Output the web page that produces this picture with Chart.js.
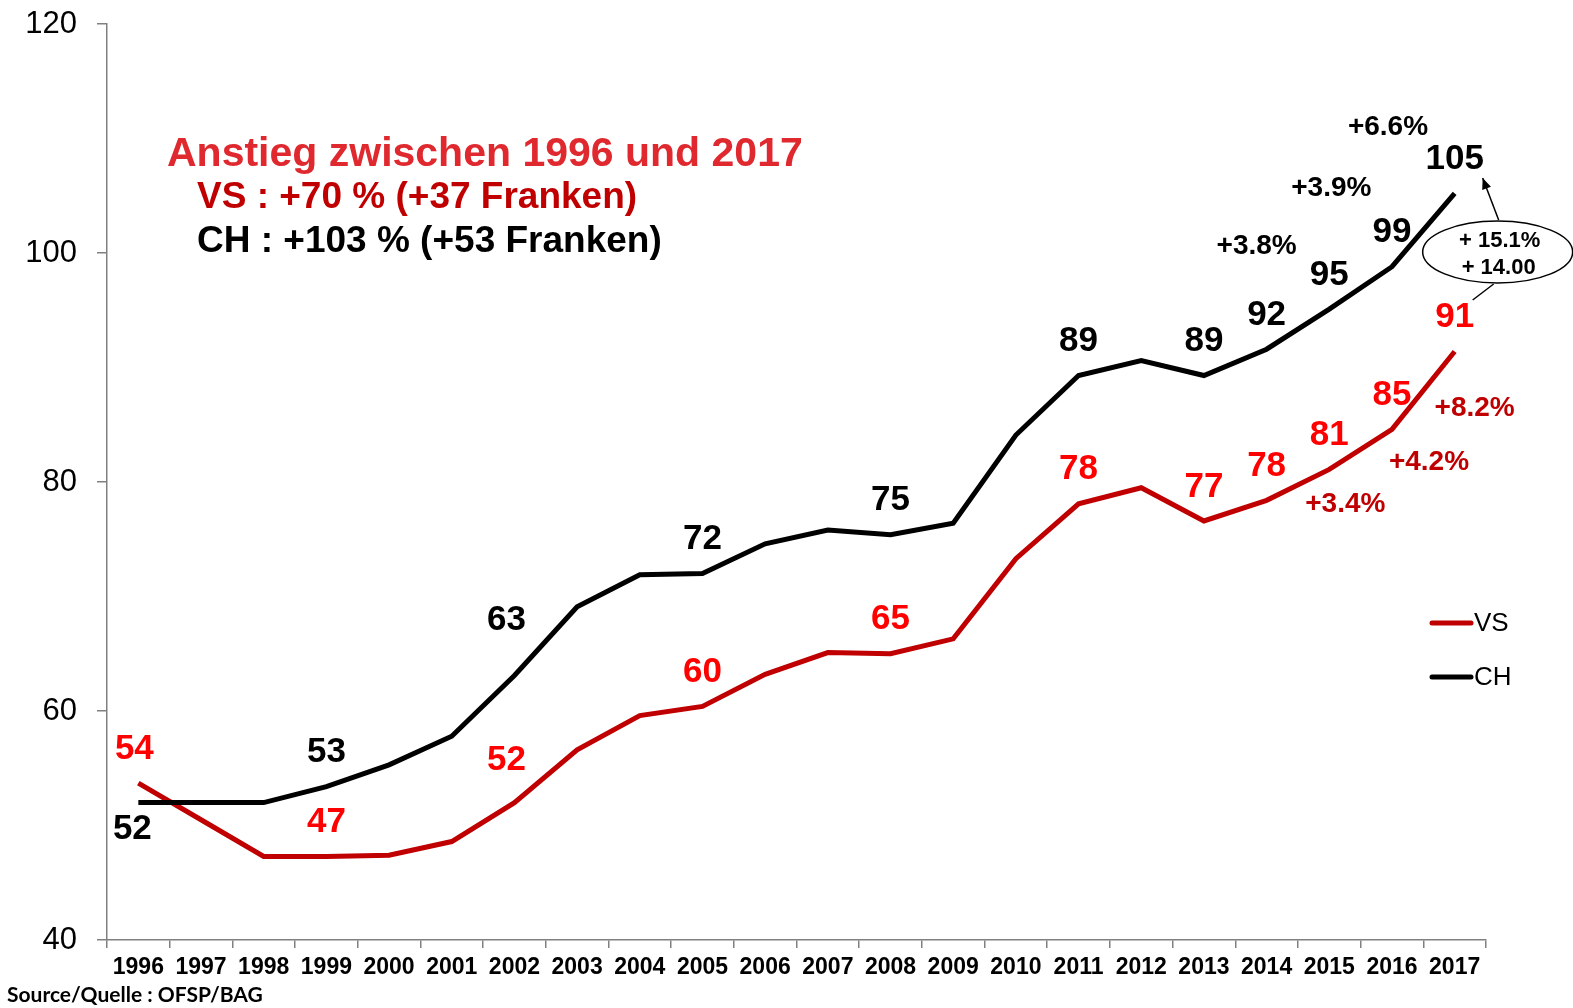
<!DOCTYPE html>
<html>
<head>
<meta charset="utf-8">
<script src="https://cdn.jsdelivr.net/npm/chart.js@4.4.0/dist/chart.umd.min.js"></script>
<style>
  html, body { margin: 0; padding: 0; background: #fff; overflow: hidden; }
  #wrap { position: relative; width: 1573px; height: 1008px; }
</style>
</head>
<body>
<div id="wrap"><canvas id="praemien"></canvas></div>
<script>
/* ── Daten ─────────────────────────────────── */
const YEARS = ['1996','1997','1998','1999','2000','2001','2002','2003','2004','2005','2006',
               '2007','2008','2009','2010','2011','2012','2013','2014','2015','2016','2017'];
const VS_VALUES = [53.7, 50.5, 47.3, 47.3, 47.4, 48.6, 52.0, 56.6, 59.6, 60.4, 63.2,
                   65.1, 65.0, 66.3, 73.3, 78.1, 79.5, 76.6, 78.4, 81.1, 84.6, 91.4];
const CH_VALUES = [52.0, 52.0, 52.0, 53.4, 55.3, 57.8, 63.1, 69.1, 71.9, 72.0, 74.6,
                   75.8, 75.4, 76.4, 84.1, 89.3, 90.6, 89.3, 91.6, 95.1, 98.8, 105.2];
const Y_MIN = 40, Y_MAX = 120, Y_STEP = 20;

// Jahre mit Wertbeschriftung (Index in YEARS)
const LABELLED = [0, 3, 6, 9, 12, 15, 17, 18, 19, 20, 21];
const VS_LABELLED = [0, 3, 6, 9, 12, 15, 17, 18, 19, 20, 21];

// Veränderung zum Vorjahr 2015, 2016, 2017
const CH_GROWTH = ['+3.8%', '+3.9%', '+6.6%'];
const VS_GROWTH = ['+3.4%', '+4.2%', '+8.2%'];
const GAP_TEXT  = ['+ 15.1%', '+ 14.00'];

const SUMMARY_TITLE = 'Anstieg zwischen 1996 und 2017';
const SUMMARY_VS    = 'VS : +70 % (+37 Franken)';
const SUMMARY_CH    = 'CH : +103 % (+53 Franken)';
const SOURCE_TEXT   = 'Source/Quelle : OFSP/BAG';

const FONT = "'Liberation Sans', Arial, sans-serif";
const RED_LINE = '#c00000';
const RED_LABEL = '#ff0000';

/* ── Beschriftungen im Diagramm ────────────── */
const annotations = {
  id: 'annotations',
  afterDatasetsDraw(chart) {
    const ctx = chart.ctx;
    const x = chart.scales.x, y = chart.scales.y;
    const px = i => x.getPixelForValue(i);

    ctx.save();
    ctx.textAlign = 'center';
    ctx.textBaseline = 'middle';

    // Werte an den Linien
    const chOffsets = { 0: [-6, 27], 6: [-8, -55] };
    const vsOffsets = { 0: [-4, -34], 6: [-8, -42] };
    ctx.font = 'bold 35px ' + FONT;
    ctx.fillStyle = '#000';
    LABELLED.forEach(i => {
      const [dx, dy] = chOffsets[i] || [0, -34];
      ctx.fillText(Math.round(CH_VALUES[i]), px(i) + dx, y.getPixelForValue(CH_VALUES[i]) + dy);
    });
    ctx.fillStyle = RED_LABEL;
    VS_LABELLED.forEach(i => {
      const [dx, dy] = vsOffsets[i] || [0, -34];
      ctx.fillText(Math.round(VS_VALUES[i]), px(i) + dx, y.getPixelForValue(VS_VALUES[i]) + dy);
    });

    // Prozentzuwachs der letzten Jahre
    ctx.font = 'bold 28px ' + FONT;
    ctx.fillStyle = '#000';
    const chPos = [[18, -10, -103], [19, 2, -121], [20, -4, -139]];
    chPos.forEach(([i, dx, dy], k) => {
      ctx.fillText(CH_GROWTH[k], px(i) + dx, y.getPixelForValue(CH_VALUES[i]) + dy);
    });
    ctx.fillStyle = RED_LINE;
    const vsPos = [[19, 16, 35], [20, 37, 33], [21, 20, 57]];
    vsPos.forEach(([i, dx, dy], k) => {
      ctx.fillText(VS_GROWTH[k], px(i) + dx, y.getPixelForValue(VS_VALUES[i]) + dy);
    });

    // Ellipse mit Differenz CH - VS
    const cx = px(21) + 43, cy = y.getPixelForValue(100) - 1;
    ctx.strokeStyle = '#000';
    ctx.lineWidth = 1.5;
    ctx.beginPath();
    ctx.ellipse(cx, cy, 75, 31, 0, 0, Math.PI * 2);
    ctx.stroke();
    ctx.font = 'bold 22px ' + FONT;
    ctx.fillStyle = '#000';
    ctx.fillText(GAP_TEXT[0], cx + 2, cy - 11);
    ctx.fillText(GAP_TEXT[1], cx + 1, cy + 16);

    // Pfeil nach oben
    const ax0 = cx + 1, ay0 = cy - 32, ax1 = cx - 15, ay1 = cy - 74;
    ctx.beginPath();
    ctx.moveTo(ax0, ay0);
    ctx.lineTo(ax1, ay1);
    ctx.stroke();
    const ang = Math.atan2(ay1 - ay0, ax1 - ax0);
    ctx.beginPath();
    ctx.moveTo(ax1, ay1);
    ctx.lineTo(ax1 - 12 * Math.cos(ang - 0.4), ay1 - 12 * Math.sin(ang - 0.4));
    ctx.lineTo(ax1 - 12 * Math.cos(ang + 0.4), ay1 - 12 * Math.sin(ang + 0.4));
    ctx.closePath();
    ctx.fill();
    // Strich nach unten zum VS-Wert
    ctx.beginPath();
    ctx.moveTo(cx - 4, cy + 32);
    ctx.lineTo(cx - 25, cy + 48);
    ctx.stroke();

    // Zusammenfassung
    ctx.textAlign = 'left';
    ctx.textBaseline = 'alphabetic';
    ctx.font = 'bold 41px ' + FONT;
    ctx.fillStyle = '#e0282f';
    ctx.fillText(SUMMARY_TITLE, 167, 166);
    ctx.font = 'bold 37px ' + FONT;
    ctx.fillStyle = RED_LINE;
    ctx.fillText(SUMMARY_VS, 197, 208);
    ctx.fillStyle = '#000';
    ctx.fillText(SUMMARY_CH, 197, 252);

    // Legende
    ctx.font = '26px ' + FONT;
    ctx.textBaseline = 'middle';
    ctx.lineCap = 'round';
    chart.data.datasets.forEach((ds, k) => {
      const ly = 623 + k * 54;
      ctx.strokeStyle = ds.borderColor;
      ctx.lineWidth = 5;
      ctx.beginPath();
      ctx.moveTo(1432, ly);
      ctx.lineTo(1471, ly);
      ctx.stroke();
      ctx.fillStyle = '#000';
      ctx.fillText(ds.label, 1474, ly + 1);
    });

    // Quelle
    ctx.font = "bold 21px Lato, 'Open Sans', sans-serif";
    ctx.textBaseline = 'alphabetic';
    ctx.fillStyle = '#000';
    ctx.fillText(SOURCE_TEXT, 7, 1002);
    ctx.restore();
  }
};

/* ── Liniendiagramm ────────────────────────── */
new Chart(document.getElementById('praemien'), {
  type: 'line',
  data: {
    labels: YEARS,
    datasets: [
      {
        label: 'VS',
        data: VS_VALUES,
        borderColor: RED_LINE,
        borderWidth: 5,
        pointRadius: 0,
        tension: 0,
        order: 1
      },
      {
        label: 'CH',
        data: CH_VALUES,
        borderColor: '#000',
        borderWidth: 5,
        pointRadius: 0,
        tension: 0,
        order: 0
      }
    ]
  },
  options: {
    responsive: true,
    maintainAspectRatio: false,
    animation: false,
    layout: { padding: { top: 24, right: 87, left: 0, bottom: 0 } },
    plugins: {
      legend: { display: false },
      tooltip: { enabled: false }
    },
    scales: {
      x: {
        offset: true,
        afterFit: s => { s.height = 68; s.paddingLeft = 0; s.paddingRight = 0; },
        grid: { offset: true, drawOnChartArea: false, color: '#808080', lineWidth: 1.5, tickLength: 8 },
        border: { color: '#808080', width: 1.5 },
        ticks: {
          color: '#000',
          padding: 6,
          maxRotation: 0,
          autoSkip: false,
          font: { family: FONT, size: 23, weight: 'bold' }
        }
      },
      y: {
        min: Y_MIN,
        max: Y_MAX,
        afterFit: s => { s.width = 107; s.paddingTop = 0; s.paddingBottom = 0; },
        grid: { drawOnChartArea: false, color: '#808080', lineWidth: 1.5, tickLength: 10 },
        border: { color: '#808080', width: 1.5 },
        ticks: {
          stepSize: Y_STEP,
          color: '#000',
          padding: 20,
          font: { family: FONT, size: 31 }
        }
      }
    }
  },
  plugins: [annotations]
});
</script>
</body>
</html>
